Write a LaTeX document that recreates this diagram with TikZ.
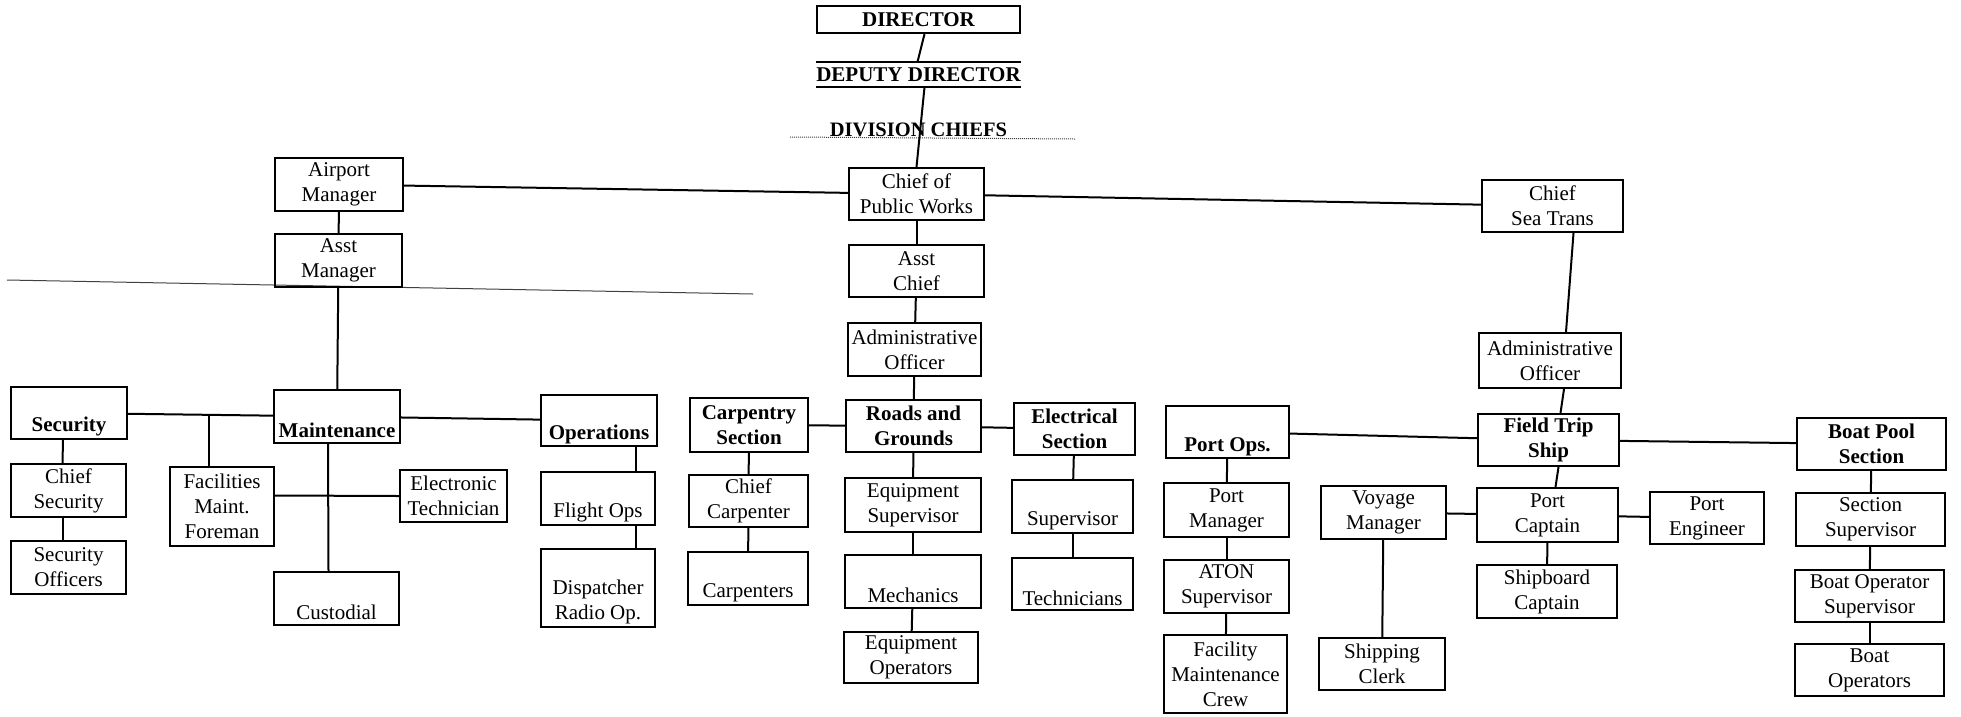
\documentclass[tikz,border=0pt]{standalone}
\usepackage{fontspec}
\setmainfont{Liberation Serif}
\usetikzlibrary{calc}

\begin{document}
\begin{tikzpicture}[
    x=1pt, y=-1pt, % pixel units, y downwards
    font=\fontsize{21}{25}\selectfont,
    unit/.style={draw, line width=2.2pt, align=center, inner sep=1pt}, % plain box
    head/.style={unit, font=\fontsize{21}{25}\selectfont\bfseries}, % section box
    wh/.style 2 args={minimum width=#1, minimum height=#2},
    link/.style={line width=2pt}, % connectors
    scanline/.style={line width=1pt, black!75} % stray lines of the page
  ]
  \useasboundingbox (0,0) rectangle (1961,716);

  % --- stray lines ---
  \draw[scanline] (7,280) -- (753,294);
  \draw[scanline, densely dotted] (790,137) -- (1075,139);

  % --- top ---
  \node[head, wh={203}{27}] (dir) at (918.5,19.5) {DIRECTOR};
  \node[font=\fontsize{21}{25}\selectfont\bfseries, wh={203}{25}, inner sep=0pt] (dep) at (918.5,74.5) {DEPUTY DIRECTOR};
  \draw[line width=2.2pt] (dep.north west) -- (dep.north east);
  \draw[line width=2.2pt] (dep.south west) -- (dep.south east);
  \node[font=\fontsize{20.5}{25}\selectfont\bfseries] (div) at (918.5,130) {DIVISION CHIEFS};

  % --- chiefs ---
  \node[unit, wh={135}{52}] (cpw) at (916.5,194) {Chief of\\Public Works};
  \node[unit, wh={128}{53}] (apm) at (339,184.5) {Airport\\Manager};
  \node[unit, wh={127}{53}] (asm) at (338.5,260.5) {Asst\\Manager};
  \node[unit, wh={141}{52}] (cst) at (1552.5,206) {Chief\\Sea Trans};
  \node[unit, wh={135}{52}] (ach) at (916.5,271) {Asst\\Chief};
  \node[unit, wh={133}{53}] (adm) at (914.5,349.5) {Administrative\\Officer};
  \node[unit, wh={142}{55}] (adms) at (1550,360.5) {Administrative\\Officer};

  % --- sections ---
  \node[head, wh={116}{52}] (sec) at (69,413) {\strut\\Security};
  \node[head, wh={126}{53}] (mnt) at (337,416.5) {\strut\\Maintenance};
  \node[head, wh={116}{51}] (ops) at (599,420.5) {\strut\\Operations};
  \node[head, wh={118}{54}] (car) at (749,425) {Carpentry\\Section};
  \node[head, wh={135}{52}] (rg) at (913.5,426) {Roads and\\Grounds};
  \node[head, wh={121}{52}] (els) at (1074.5,429) {Electrical\\Section};
  \node[head, wh={123}{52}] (pops) at (1227.5,432) {\strut\\Port Ops.};
  \node[head, wh={141}{52}] (fts) at (1548.5,440) {Field Trip\\Ship};
  \node[head, wh={149}{52}] (bps) at (1871.5,444) {Boat Pool\\Section};

  % --- staff ---
  \node[unit, wh={115}{53}] (csec) at (68.5,490.5) {Chief\\Security};
  \node[unit, wh={115}{53}] (soff) at (68.5,567.5) {Security\\Officers};
  \node[unit, wh={104}{79}] (fac) at (222,506.5) {Facilities\\Maint.\\Foreman};
  \node[unit, wh={107}{52}] (etech) at (453.5,496) {Electronic\\Technician};
  \node[unit, wh={125}{53}] (cust) at (336.5,598.5) {\strut\\Custodial};
  \node[unit, wh={114}{53}] (flt) at (598,498.5) {\strut\\Flight Ops};
  \node[unit, wh={114}{78}] (disp) at (598,588) {\strut\\Dispatcher\\Radio Op.};
  \node[unit, wh={119}{52}] (ccar) at (748.5,501) {Chief\\Carpenter};
  \node[unit, wh={120}{53}] (carp) at (748,578.5) {\strut\\Carpenters};
  \node[unit, wh={136}{54}] (eqs) at (913,505) {Equipment\\Supervisor};
  \node[unit, wh={136}{53}] (mech) at (913,581.5) {\strut\\Mechanics};
  \node[unit, wh={134}{51}] (eqo) at (911,657.5) {Equipment\\Operators};
  \node[unit, wh={121}{53}] (esup) at (1072.5,506.5) {\strut\\Supervisor};
  \node[unit, wh={121}{52}] (tech) at (1072.5,584) {\strut\\Technicians};
  \node[unit, wh={125}{54}] (pman) at (1226.5,510) {Port\\Manager};
  \node[unit, wh={125}{53}] (aton) at (1226.5,586.5) {ATON\\Supervisor};
  \node[unit, wh={123}{78}] (fmc) at (1225.5,674) {Facility\\Maintenance\\Crew};
  \node[unit, wh={125}{53}] (voy) at (1383.5,512.5) {Voyage\\Manager};
  \node[unit, wh={126}{52}] (shc) at (1382,664) {Shipping\\Clerk};
  \node[unit, wh={141}{54}] (pcap) at (1547.5,515) {Port\\Captain};
  \node[unit, wh={140}{53}] (sbc) at (1547,591.5) {Shipboard\\Captain};
  \node[unit, wh={114}{52}] (peng) at (1707,518) {Port\\Engineer};
  \node[unit, wh={149}{53}] (ssup) at (1870.5,519.5) {Section\\Supervisor};
  \node[unit, wh={149}{52}] (bosup) at (1869.5,596) {Boat Operator\\Supervisor};
  \node[unit, wh={149}{52}] (bop) at (1869.5,670) {Boat\\Operators};

  % --- connectors: top ---
  \draw[link] ([xshift=6pt]dir.south) -- ([xshift=-1pt]dep.north);
  \draw[link] ([xshift=6pt]dep.south) -- (cpw.north);
  \draw[link] (apm) -- (cpw);
  \draw[link] (cpw) -- (cst);

  % --- connectors: airport ---
  \draw[link] (apm) -- (asm);
  \draw[link] (asm) -- (mnt);
  \draw[link] (sec) -- coordinate[pos=0.56] (facjoin) (mnt);
  \draw[link] (facjoin) -- (facjoin |- fac.north);
  \draw[link] (mnt) -- (ops);
  \draw[link] ([xshift=-6pt]sec.south) -- ([xshift=-6pt]csec.north);
  \draw[link] ([xshift=-6pt]csec.south) -- ([xshift=-6pt]soff.north);
  \draw[link] ([xshift=-9pt]mnt.south) -- ([xshift=-8pt]cust.north);
  \draw[link] ([yshift=11pt]fac.east) -- (etech.west);
  \draw[link] ([xshift=37pt]ops.south) -- ([xshift=38pt]flt.north);
  \draw[link] ([xshift=38pt]flt.south) -- ([xshift=38pt]disp.north);

  % --- connectors: public works ---
  \draw[link] (cpw) -- (ach);
  \draw[link] (ach) -- (adm);
  \draw[link] (adm) -- (rg);
  \draw[link] (car) -- (rg);
  \draw[link] (rg) -- (els);
  \draw[link] (car) -- (ccar);
  \draw[link] (ccar) -- (carp);
  \draw[link] (rg) -- (eqs);
  \draw[link] (eqs) -- (mech);
  \draw[link] (mech) -- (eqo);
  \draw[link] (els) -- (esup);
  \draw[link] (esup) -- (tech);

  % --- connectors: sea transport ---
  \draw[link] ([xshift=21pt]cst.south) -- ([xshift=16pt]adms.north);
  \draw[link] ([xshift=14pt]adms.south) -- ([xshift=12pt]fts.north);
  \draw[link] (pops) -- (fts);
  \draw[link] (fts) -- (bps);
  \draw[link] (pops) -- (pman);
  \draw[link] (pman) -- (aton);
  \draw[link] (aton) -- (fmc);
  \draw[link] ([xshift=10pt]fts.south) -- ([xshift=8pt]pcap.north);
  \draw[link] (pcap) -- (sbc);
  \draw[link] (voy) -- (pcap);
  \draw[link] (pcap) -- (peng);
  \draw[link] (voy) -- (shc);
  \draw[link] (bps) -- (ssup);
  \draw[link] (ssup) -- (bosup);
  \draw[link] (bosup) -- (bop);
\end{tikzpicture}
\end{document}
